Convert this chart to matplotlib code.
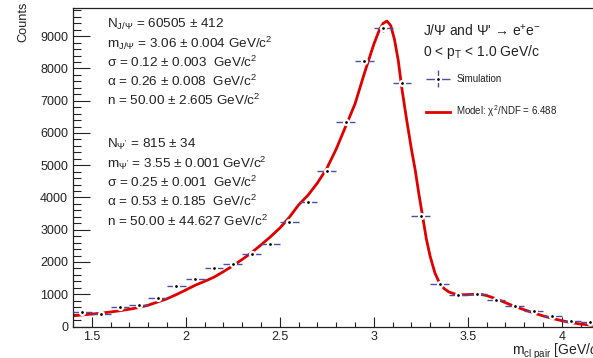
import numpy as np
import matplotlib
matplotlib.use("Agg")
import matplotlib.pyplot as plt
from matplotlib.ticker import MultipleLocator, FixedLocator, FixedFormatter
from matplotlib.lines import Line2D
from matplotlib.legend_handler import HandlerErrorbar

plt.rcParams['font.family'] = ['Liberation Sans', 'DejaVu Sans']
plt.rcParams['mathtext.fontset'] = 'custom'
plt.rcParams['mathtext.rm'] = 'Liberation Sans'
plt.rcParams['mathtext.it'] = 'Liberation Sans:italic'
plt.rcParams['mathtext.bf'] = 'Liberation Sans:bold'

# ---------------- data ----------------
bin_centers = [1.45, 1.55, 1.65, 1.75, 1.85, 1.95, 2.05, 2.15, 2.25, 2.35,
               2.45, 2.55, 2.65, 2.75, 2.85, 2.95, 3.05, 3.15, 3.25, 3.35,
               3.45, 3.55, 3.65, 3.75, 3.85, 3.95, 4.05, 4.15]
counts = [440, 390, 605, 680, 895, 1258, 1485, 1817, 1930, 2240,
          2573, 3255, 3866, 4829, 6341, 8224, 9239, 7553, 3411, 1310,
          978, 1000, 833, 637, 481, 336, 181, 130]
count_errors = [21, 20, 25, 26, 30, 35, 39, 43, 44, 47,
                51, 57, 62, 69, 80, 91, 96, 87, 58, 36,
                31, 32, 29, 25, 22, 18, 13, 11]
bin_half_width = 0.05

model_x = [1.40, 1.45, 1.50, 1.55, 1.60, 1.65, 1.70, 1.75, 1.80, 1.85,
           1.90, 1.95, 2.00, 2.05, 2.10, 2.15, 2.20, 2.25, 2.30, 2.35,
           2.40, 2.45, 2.50, 2.55, 2.60, 2.65, 2.70, 2.75, 2.80, 2.85,
           2.90, 2.95, 3.00, 3.03, 3.05, 3.07, 3.09, 3.11, 3.13, 3.15,
           3.175, 3.20, 3.22, 3.24, 3.26, 3.28, 3.30, 3.325, 3.35, 3.375,
           3.40, 3.44, 3.48, 3.52, 3.56, 3.60, 3.65, 3.70, 3.75, 3.80,
           3.85, 3.90, 3.95, 4.00, 4.05, 4.10, 4.15, 4.20]
model_y = [330, 360, 385, 415, 450, 490, 535, 590, 660, 760,
           860, 990, 1133, 1280, 1400, 1530, 1700, 1880, 2080, 2290,
           2530, 2780, 3050, 3380, 3770, 4070, 4450, 4900, 5500, 6200,
           6900, 7850, 8750, 9200, 9400, 9470, 9330, 8900, 8250, 7350,
           6400, 5500, 4860, 4100, 3400, 2700, 2170, 1660, 1340, 1170,
           1070, 990, 985, 995, 1005, 960, 860, 740, 620, 520,
           420, 330, 250, 180, 120, 75, 45, 25]

x_ticks = [1.5, 2.0, 2.5, 3.0, 3.5, 4.0]
x_tick_labels = ['1.5', '2', '2.5', '3', '3.5', '4']
y_ticks = [0, 1000, 2000, 3000, 4000, 5000, 6000, 7000, 8000, 9000]
y_tick_labels = ['0', '1000', '2000', '3000', '4000', '5000', '6000', '7000', '8000', '9000']

left_lines = [
    r"N$_{\mathrm{J/\Psi}}$ = 60505 ± 412",
    r"m$_{\mathrm{J/\Psi}}$ = 3.06 ± 0.004 GeV/c$^{2}$",
    r"σ = 0.12 ± 0.003  GeV/c$^{2}$",
    r"α = 0.26 ± 0.008  GeV/c$^{2}$",
    r"n = 50.00 ± 2.605 GeV/c$^{2}$",
    r"N$_{\mathrm{\Psi'}}$ = 815 ± 34",
    r"m$_{\mathrm{\Psi'}}$ = 3.55 ± 0.001 GeV/c$^{2}$",
    r"σ = 0.25 ± 0.001  GeV/c$^{2}$",
    r"α = 0.53 ± 0.185  GeV/c$^{2}$",
    r"n = 50.00 ± 44.627 GeV/c$^{2}$",
]
left_baselines = [28.3, 47.5, 66.8, 86.0, 105.0, 147.7, 167.5, 187.0, 206.5, 226.0]

W, H = 593, 358
fig = plt.figure(figsize=(W / 100, H / 100), dpi=100)

def fx(x):
    return x / W

def fy(y):
    return 1 - y / H

ax = fig.add_axes([73 / W, 31.5 / H, 526.4 / W, 319 / H])
ax.set_xlim(1.4, 4.2)
ax.set_ylim(0, 9890)

err_color = '#4a4fa3'
ax.plot(model_x, model_y, color='#e00000', lw=2.0, zorder=2)
eb = ax.errorbar(bin_centers, counts, xerr=bin_half_width, yerr=count_errors,
                 fmt='o', color=err_color, ecolor=err_color, elinewidth=1.0,
                 markersize=3.6, markerfacecolor='black', markeredgecolor='white',
                 markeredgewidth=1.6, capsize=0, zorder=3)

# ticks
ax.xaxis.set_major_locator(FixedLocator(x_ticks))
ax.xaxis.set_major_formatter(FixedFormatter(x_tick_labels))
ax.xaxis.set_minor_locator(MultipleLocator(0.1))
ax.yaxis.set_major_locator(FixedLocator(y_ticks))
ax.yaxis.set_major_formatter(FixedFormatter(y_tick_labels))
ax.yaxis.set_minor_locator(MultipleLocator(200))
ax.tick_params(axis='both', which='both', direction='in', width=0.8, colors='#222222',
               labelcolor='#222222', labelsize=9)
ax.tick_params(axis='y', which='major', length=12.2, pad=3.6)
ax.tick_params(axis='y', which='minor', length=6.1)
ax.tick_params(axis='x', which='major', length=6.9, pad=3.6)
ax.tick_params(axis='x', which='minor', length=3.5)
ax.tick_params(top=False, right=False, which='both')
for s in ax.spines.values():
    s.set_linewidth(0.9)
    s.set_color('#222222')

# axis titles
fig.text(fx(23), fy(2), 'Counts', rotation=90, ha='center', va='top',
         fontsize=9.2, color='#222222')
fig.text(fx(512), fy(355), r"m$_{\mathrm{cl\ pair}}$ [GeV/$c^{2}$]", ha='left',
         va='baseline', fontsize=10, color='#222222')

# fit annotations
for txt, yb in zip(left_lines, left_baselines):
    fig.text(fx(107), fy(yb), txt, ha='left', va='baseline', fontsize=9.7, color='#222222')

fig.text(fx(423), fy(36), r"J/Ψ and Ψ' → e$^{+}$e$^{-}$", ha='left', va='baseline',
         fontsize=10, color='#222222')
fig.text(fx(423), fy(56), r"0 < p$_{\mathrm{T}}$ < 1.0 GeV/c", ha='left', va='baseline',
         fontsize=10, color='#222222')

# legend
model_handle = Line2D([], [], color='#e00000', lw=2.0)
leg = fig.legend([eb, model_handle], ['Simulation', r'Model: χ$^{2}$/NDF = 6.488'],
                 loc='upper left', bbox_to_anchor=(fx(426), fy(74)),
                 bbox_transform=fig.transFigure, frameon=False, fontsize=7,
                 handlelength=2.5, handletextpad=0.6, labelspacing=2.0,
                 borderpad=0, borderaxespad=0,
                 handler_map={type(eb): HandlerErrorbar(xerr_size=1.2, yerr_size=0.85)})
for t in leg.get_texts():
    t.set_color('#222222')

fig.savefig('out.png', dpi=100)
